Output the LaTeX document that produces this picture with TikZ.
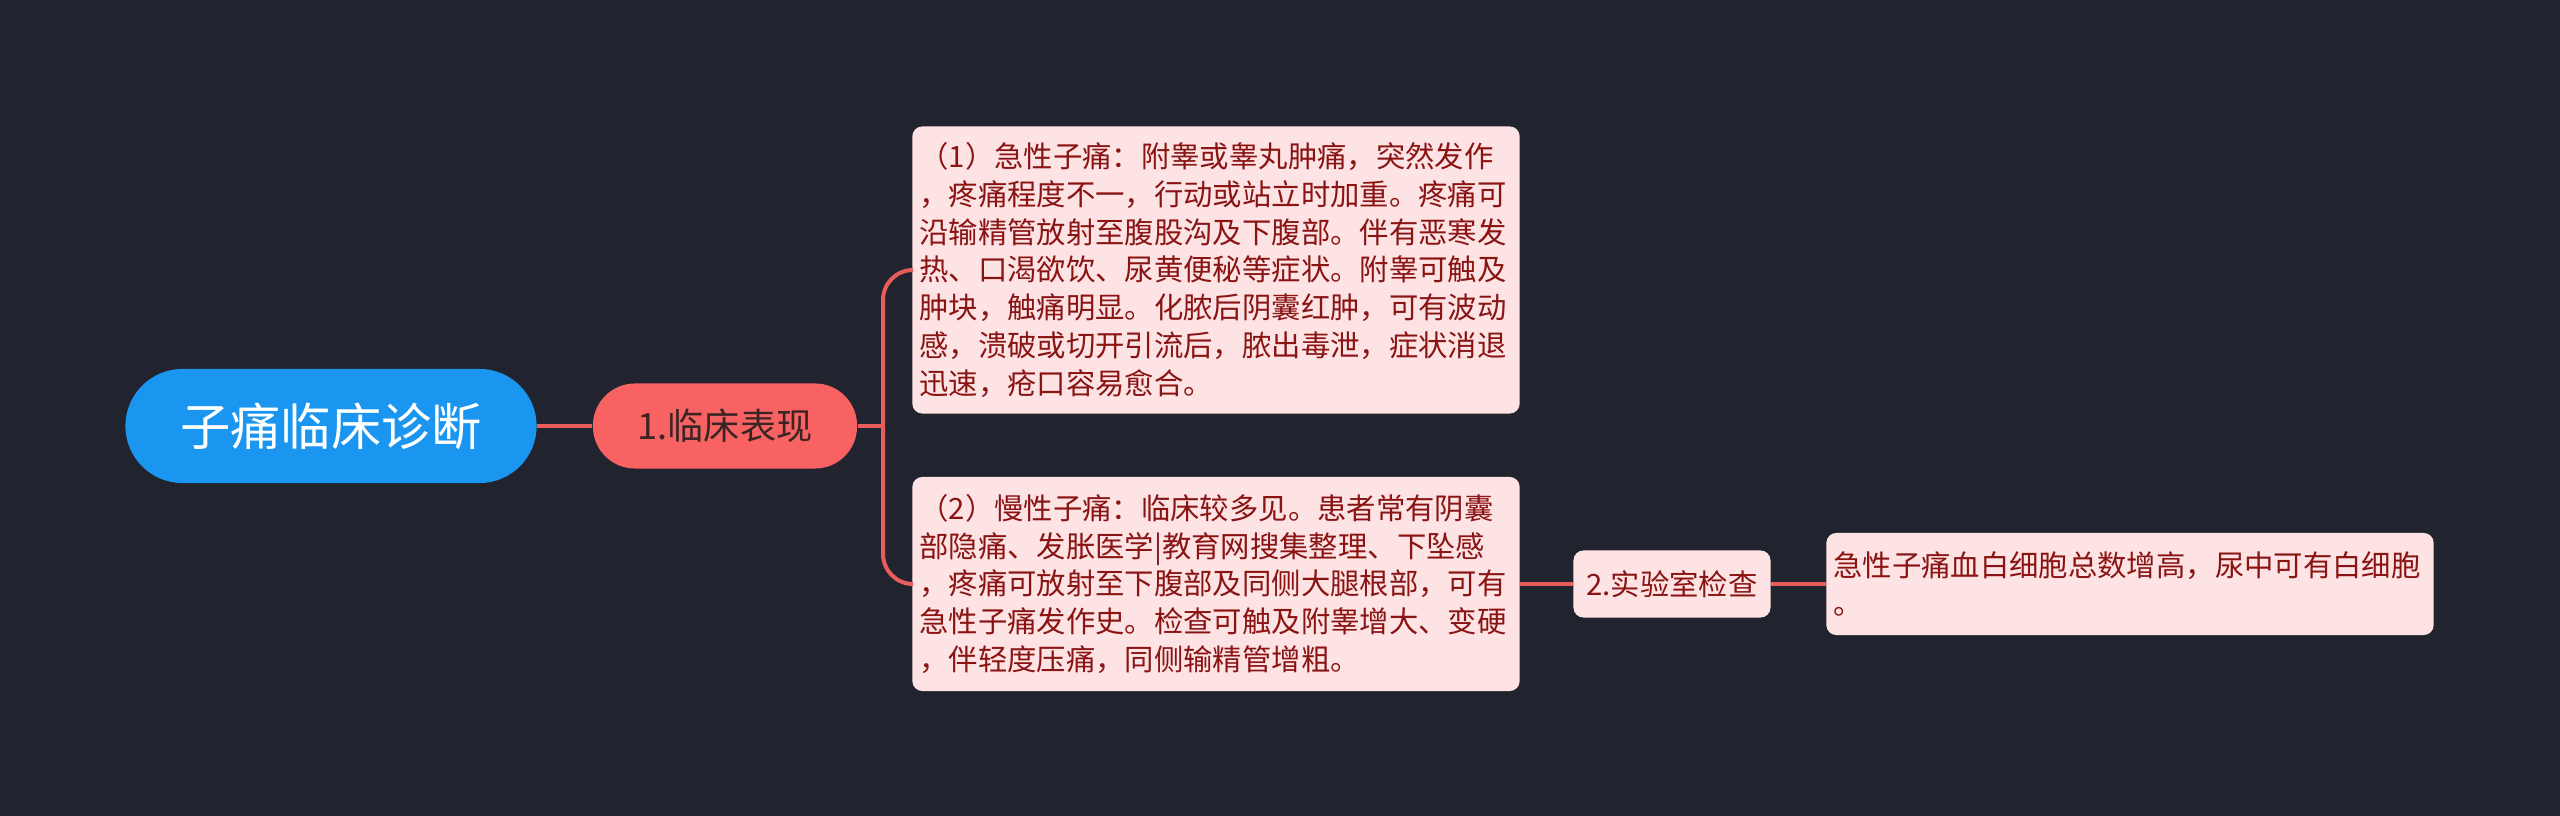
\documentclass[tikz,border=0pt]{standalone}
\usepackage{fontspec}
\setmainfont{Noto Sans CJK SC}
\usepackage{xcolor}
\definecolor{bgnavy}{HTML}{21242F}
\definecolor{rootblue}{HTML}{1B96F0}
\definecolor{topicred}{HTML}{F86262}
\definecolor{linkred}{HTML}{E95C5C}
\definecolor{notepink}{HTML}{FDE3E3}
\definecolor{notetext}{HTML}{8A1414}
\definecolor{topictext}{HTML}{3A2424}
\newcommand{\notefont}{\fontsize{8.35pt}{10.8pt}\selectfont}
\tikzset{root/.style={rounded corners=0.57cm, fill=rootblue, text=white,
   minimum width=4.11cm, minimum height=1.14cm,
   font=\fontsize{14.3pt}{17pt}\selectfont},
 topic/.style={rounded corners=0.42cm, fill=topicred, text=topictext,
   minimum width=2.64cm, minimum height=0.85cm,
   font=\fontsize{10.3pt}{12pt}\selectfont},
 subtopic/.style={rounded corners=0.1cm, fill=notepink, text=notetext,
   minimum width=1.97cm, minimum height=0.67cm, font=\notefont},
 note/.style={rounded corners=0.1cm, fill=notepink, text=notetext,
   text width=5.93cm, align=left, inner xsep=0.07cm, font=\notefont},
 link/.style={draw=linkred, line width=0.04cm},
 }

\begin{document}
\begin{tikzpicture}[x=0.01cm, y=-0.01cm]
        \useasboundingbox (0,0) rectangle (2560,816);
        \fill [bgnavy] (0,0) rectangle (2560,816);
        % main topic and first branch
        \node [root] (root) at (331,426) {子痛临床诊断};
        \node [topic] (clinic) at (725,426) {1.临床表现};
        \node [note, minimum height=2.87cm] (acute) at (1216,270)
            {（1）急性子痛：附睾或睾丸肿痛，突然发作\\
             ，疼痛程度不一，行动或站立时加重。疼痛可\\
             沿输精管放射至腹股沟及下腹部。伴有恶寒发\\
             热、口渴欲饮、尿黄便秘等症状。附睾可触及\\
             肿块，触痛明显。化脓后阴囊红肿，可有波动\\
             感，溃破或切开引流后，脓出毒泄，症状消退\\
             迅速，疮口容易愈合。};
        \node [note, minimum height=2.14cm] (chronic) at (1216,584)
            {（2）慢性子痛：临床较多见。患者常有阴囊\\
             部隐痛、发胀医学|教育网搜集整理、下坠感\\
             ，疼痛可放射至下腹部及同侧大腿根部，可有\\
             急性子痛发作史。检查可触及附睾增大、变硬\\
             ，伴轻度压痛，同侧输精管增粗。};
        % second branch
        \node [subtopic] (lab) at (1672,584) {2.实验室检查};
        \node [note, minimum height=1.02cm] (labnote) at (2130,584)
            {急性子痛血白细胞总数增高，尿中可有白细胞\\。};
        % connectors
        \coordinate (fork) at (883,426);
        \draw [link] (root) -- (clinic);
        \draw [link] (clinic.east) -- (fork);
        \draw [link, rounded corners=0.3cm] (fork) |- (acute.west);
        \draw [link, rounded corners=0.3cm] (fork) |- (chronic.west);
        \draw [link] (chronic.east) -- (lab.west);
        \draw [link] (lab.east) -- (labnote.west);
    \end{tikzpicture}
\end{document}
